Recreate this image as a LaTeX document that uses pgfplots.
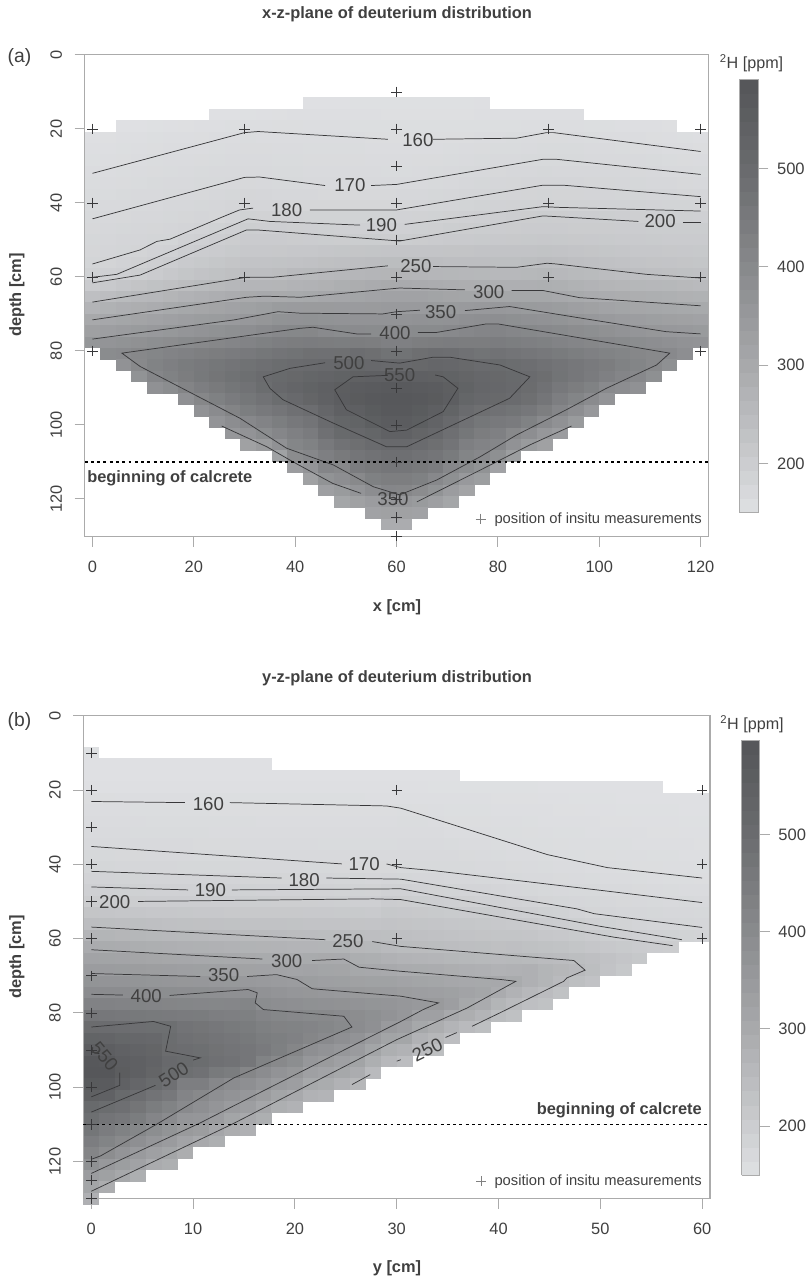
\documentclass[border=0pt]{standalone}
\usepackage{fontspec}
\setmainfont{Liberation Sans}
\usepackage{pgfplots}
\usepackage{pgfplotstable}
\pgfplotsset{compat=1.18}
\definecolor{axgray}{HTML}{ABABAB}
\definecolor{txt}{HTML}{404040}
\definecolor{cline}{HTML}{38383A}
\pgfdeclareplotmark{cellA}{\pgfpathrectangle{\pgfpoint{-5.95pt}{-4.37pt}}{\pgfpoint{11.9pt}{8.74pt}}\pgfusepathqfill}
\pgfdeclareplotmark{cellB}{\pgfpathrectangle{\pgfpoint{-5.97pt}{-4.4pt}}{\pgfpoint{11.94pt}{8.8pt}}\pgfusepathqfill}
% each line is one vertical column of the picture (x index), each entry one depth row
\pgfplotstableread[header=false]{
nan nan nan nan 153 155 157 160 162 165 167 170 172 175 177 180 188 205 237 268 299 328 358 nan nan nan nan nan nan nan nan nan nan nan nan nan nan nan nan nan
nan nan nan nan 154 156 158 161 163 165 168 171 173 176 179 182 191 210 243 275 304 334 365 393 nan nan nan nan nan nan nan nan nan nan nan nan nan nan nan nan
nan nan nan 150 155 157 159 162 164 167 169 172 175 178 180 186 194 218 250 281 310 339 370 398 372 nan nan nan nan nan nan nan nan nan nan nan nan nan nan nan
nan nan nan 151 156 158 160 163 165 168 170 173 176 179 182 190 198 225 256 285 315 345 376 405 402 370 nan nan nan nan nan nan nan nan nan nan nan nan nan nan
nan nan nan 152 157 159 162 164 167 169 171 174 177 180 186 194 205 231 260 290 320 349 383 412 422 410 375 nan nan nan nan nan nan nan nan nan nan nan nan nan
nan nan nan 153 158 160 163 165 168 170 173 175 178 180 189 199 213 236 266 297 327 354 389 420 433 425 390 nan nan nan nan nan nan nan nan nan nan nan nan nan
nan nan nan 154 158 160 163 166 169 171 174 177 181 189 197 207 220 244 273 303 333 362 396 427 444 440 418 378 nan nan nan nan nan nan nan nan nan nan nan nan
nan nan nan 155 159 161 164 167 170 172 175 178 184 192 202 212 226 250 279 309 338 368 402 434 452 454 435 408 372 nan nan nan nan nan nan nan nan nan nan nan
nan nan 150 156 160 162 165 168 170 173 176 177 188 197 205 217 231 255 284 315 342 374 408 440 460 466 450 428 395 365 nan nan nan nan nan nan nan nan nan nan
nan nan 151 157 161 163 166 168 171 175 178 181 191 200 209 222 236 260 290 320 346 380 414 446 468 476 463 445 418 388 355 nan nan nan nan nan nan nan nan nan
nan nan 152 158 162 164 166 168 172 177 179 188 198 205 213 226 240 265 296 326 352 385 420 452 476 486 475 460 438 403 368 325 nan nan nan nan nan nan nan nan
nan nan 153 158 161 164 166 168 171 176 179 187 197 204 213 226 240 265 298 332 360 395 428 460 484 497 492 474 452 420 390 344 nan nan nan nan nan nan nan nan
nan nan 154 159 161 163 165 167 170 174 178 187 196 204 214 228 244 266 296 342 370 404 436 468 492 505 510 492 465 438 410 375 322 nan nan nan nan nan nan nan
nan nan 155 159 161 163 165 167 170 173 177 186 195 203 215 230 251 270 297 343 372 406 440 473 498 512 523 507 480 455 430 412 392 340 nan nan nan nan nan nan
nan 150 155 158 160 162 164 166 169 173 177 185 194 202 216 232 253 273 300 344 374 408 443 482 502 522 535 525 490 467 445 425 407 365 325 nan nan nan nan nan
nan 151 155 158 160 162 164 166 168 172 177 185 193 201 218 236 257 277 304 344 370 398 440 480 506 528 545 540 520 497 480 452 432 413 370 330 nan nan nan nan
nan 151 155 158 160 162 164 166 168 172 177 185 192 200 220 238 259 283 308 343 368 393 438 482 510 535 555 558 545 522 505 475 450 405 385 345 310 nan nan nan
nan 152 155 157 160 162 164 166 168 172 177 185 192 201 222 241 262 288 313 343 368 394 440 490 518 542 562 568 548 530 510 485 465 443 402 365 325 nan nan nan
nan 152 155 157 159 161 163 166 168 172 177 185 191 201 223 243 265 293 318 344 368 393 437 485 510 545 566 574 565 552 522 497 475 453 428 388 340 320 nan nan
nan 152 154 157 159 161 163 165 168 172 177 185 191 200 224 245 266 296 321 346 369 394 430 473 507 546 570 580 574 562 541 507 483 462 437 410 355 325 290 nan
nan 152 154 157 159 161 163 165 168 173 177 186 192 201 224 245 266 295 320 346 369 394 430 473 507 546 570 580 574 562 541 507 483 462 437 408 355 325 290 nan
nan 152 154 157 159 161 164 166 169 174 179 187 193 203 224 245 265 292 320 347 371 396 437 485 512 545 566 574 565 552 525 497 475 453 428 392 345 320 nan nan
nan 152 154 157 159 161 164 167 170 175 180 188 195 205 224 243 262 289 316 345 370 396 440 490 520 542 562 568 550 532 510 485 465 443 403 370 330 nan nan nan
nan 152 154 157 159 162 165 168 171 176 181 190 198 207 225 241 261 287 312 345 372 400 443 487 515 535 551 553 530 507 483 468 447 407 380 340 310 nan nan nan
nan 152 154 157 159 163 166 170 173 178 183 192 200 208 225 240 259 285 310 347 378 407 440 478 508 525 535 522 497 478 460 433 415 393 350 315 nan nan nan nan
nan 153 155 157 160 164 167 171 175 179 185 194 201 209 226 240 258 283 308 350 382 414 440 470 498 515 520 510 485 460 440 420 403 370 335 nan nan nan nan nan
nan nan 155 157 161 165 168 172 176 180 186 197 202 210 226 239 256 282 306 353 385 417 443 475 500 512 515 508 478 452 430 410 380 320 nan nan nan nan nan nan
nan nan 155 157 162 165 169 173 177 181 187 199 203 211 226 239 256 282 306 349 380 411 438 468 492 505 506 497 470 445 402 372 335 nan nan nan nan nan nan nan
nan nan 156 158 163 166 170 174 178 182 188 200 204 212 226 242 258 282 306 345 375 406 432 462 487 497 495 485 458 425 385 345 nan nan nan nan nan nan nan nan
nan nan 156 158 164 167 170 175 178 183 189 201 205 213 228 246 261 283 306 343 372 401 428 455 478 488 478 465 437 398 355 325 nan nan nan nan nan nan nan nan
nan nan 155 158 164 167 170 174 178 182 188 200 204 212 226 243 257 280 301 338 367 396 420 447 468 470 455 435 410 375 340 nan nan nan nan nan nan nan nan nan
nan nan 155 158 163 167 170 174 178 182 187 199 203 211 224 238 253 275 297 331 360 389 414 438 458 458 440 415 385 345 nan nan nan nan nan nan nan nan nan nan
nan nan nan 157 162 166 169 174 177 181 187 199 203 210 222 235 250 270 293 325 353 383 408 430 448 445 425 395 352 nan nan nan nan nan nan nan nan nan nan nan
nan nan nan 157 161 166 169 173 177 181 186 198 203 209 220 232 246 266 290 318 346 376 400 422 440 430 398 365 nan nan nan nan nan nan nan nan nan nan nan nan
nan nan nan 156 161 165 169 173 176 180 186 196 202 208 218 230 243 263 288 313 340 369 396 415 425 413 388 nan nan nan nan nan nan nan nan nan nan nan nan nan
nan nan nan 155 160 164 168 172 175 180 185 195 202 207 216 227 240 261 285 309 336 363 390 408 415 403 375 nan nan nan nan nan nan nan nan nan nan nan nan nan
nan nan nan 155 159 163 167 171 174 179 184 194 201 206 215 225 238 259 283 306 332 357 384 402 402 380 nan nan nan nan nan nan nan nan nan nan nan nan nan nan
nan nan nan 154 158 161 165 169 173 178 183 193 201 205 214 224 236 258 280 303 328 352 378 400 380 nan nan nan nan nan nan nan nan nan nan nan nan nan nan nan
nan nan nan nan 157 160 164 168 172 177 183 193 201 204 213 222 234 255 277 300 325 349 372 385 nan nan nan nan nan nan nan nan nan nan nan nan nan nan nan nan
nan nan nan nan 156 159 163 167 171 176 182 192 201 204 212 220 232 252 275 297 320 345 368 nan nan nan nan nan nan nan nan nan nan nan nan nan nan nan nan nan
}\tabA
\pgfplotstableread[header=false]{
152 150 151 153 159 161 163 166 169 173 178 184 192 201 223 245 270 295 320 343 370 395 427 465 500 535 560 585 590 575 552 510 490 468 443 418 380 342 315 280
nan 150 151 153 159 161 163 166 169 173 178 184 192 201 222 243 268 293 318 342 369 395 426 463 498 532 558 580 588 572 545 497 472 447 422 392 355 328 290 nan
nan 150 151 153 158 161 163 166 169 172 177 183 191 201 220 241 265 291 316 341 368 394 424 460 495 523 545 560 565 545 510 488 462 429 402 368 338 305 nan nan
nan 150 151 153 158 160 163 165 168 172 177 183 191 201 219 240 263 288 314 340 367 393 422 458 492 520 538 550 550 525 495 470 445 412 385 348 322 285 nan nan
nan 150 151 153 158 160 162 165 168 171 176 182 190 200 217 238 260 285 311 337 364 391 420 455 490 515 530 538 530 505 475 445 417 390 362 330 295 nan nan nan
nan 150 151 153 158 160 162 165 168 171 176 182 190 200 216 236 258 283 308 335 362 390 418 452 490 497 500 512 505 485 460 425 398 370 345 315 285 nan nan nan
nan 150 151 153 158 160 162 165 168 171 175 181 190 200 215 235 257 281 306 333 360 388 416 450 475 485 495 505 490 440 420 400 365 350 320 290 nan nan nan nan
nan 150 151 153 157 160 162 165 167 170 175 181 190 200 214 234 255 279 304 331 358 386 414 448 470 480 490 497 482 440 405 385 362 340 300 nan nan nan nan nan
nan 150 151 153 157 159 162 164 167 170 175 181 190 200 213 233 253 277 302 329 356 384 412 440 462 473 480 485 455 410 385 365 342 310 285 nan nan nan nan nan
nan 150 151 153 157 159 162 164 167 170 175 181 189 200 212 232 252 275 300 326 354 382 413 437 455 465 472 478 445 395 372 345 315 290 nan nan nan nan nan nan
nan 150 151 153 157 159 162 164 166 170 174 180 188 199 212 231 251 274 298 324 352 382 419 435 448 458 465 465 415 385 358 335 300 280 nan nan nan nan nan nan
nan 150 151 153 157 159 161 164 166 169 174 180 187 199 212 231 251 273 296 322 349 375 393 420 435 445 452 425 395 365 340 310 285 nan nan nan nan nan nan nan
nan nan 151 153 157 159 161 163 166 169 174 180 187 198 212 230 250 272 294 319 345 368 388 412 428 438 435 405 372 345 315 285 nan nan nan nan nan nan nan nan
nan nan 151 153 157 159 161 163 166 169 174 180 187 198 212 229 248 270 292 316 342 362 384 408 425 430 415 390 360 335 300 275 nan nan nan nan nan nan nan nan
nan nan 151 153 157 159 161 163 166 169 173 180 187 198 211 228 247 269 296 320 338 360 380 403 420 415 385 358 330 302 275 nan nan nan nan nan nan nan nan nan
nan nan 151 153 157 159 161 163 165 168 173 179 187 197 211 228 246 268 298 315 333 355 378 405 412 400 372 347 320 293 270 nan nan nan nan nan nan nan nan nan
nan nan 151 153 157 159 161 163 165 168 172 178 186 196 210 227 245 268 297 314 331 352 376 398 403 385 358 330 305 275 nan nan nan nan nan nan nan nan nan nan
nan nan 151 153 157 159 161 163 165 168 172 178 186 195 210 226 243 262 288 305 327 350 372 392 395 372 345 318 292 262 nan nan nan nan nan nan nan nan nan nan
nan nan 151 153 156 159 161 163 165 168 172 177 185 194 208 225 242 260 285 303 325 347 367 383 382 345 315 285 252 nan nan nan nan nan nan nan nan nan nan nan
nan nan 151 153 156 159 161 163 165 168 172 179 190 202 215 228 240 252 277 300 325 345 365 372 348 318 285 258 nan nan nan nan nan nan nan nan nan nan nan nan
nan nan 151 153 156 160 162 164 166 168 170 178 190 201 214 226 238 249 272 295 320 340 358 358 335 312 275 245 nan nan nan nan nan nan nan nan nan nan nan nan
nan nan 151 153 156 159 162 164 166 168 170 177 187 199 212 224 236 248 270 293 315 335 352 330 305 275 250 nan nan nan nan nan nan nan nan nan nan nan nan nan
nan nan 151 152 155 158 161 164 166 168 170 176 185 197 210 222 233 246 267 292 312 332 350 330 290 262 240 nan nan nan nan nan nan nan nan nan nan nan nan nan
nan nan 150 152 155 157 159 161 165 168 170 174 183 194 207 219 231 244 263 287 306 328 335 300 270 242 nan nan nan nan nan nan nan nan nan nan nan nan nan nan
nan nan nan 152 155 157 159 161 164 167 170 174 182 193 206 218 228 242 260 283 304 320 305 287 252 nan nan nan nan nan nan nan nan nan nan nan nan nan nan nan
nan nan nan 152 155 157 159 161 163 166 169 173 181 190 204 215 226 240 257 280 302 312 295 270 240 nan nan nan nan nan nan nan nan nan nan nan nan nan nan nan
nan nan nan 152 154 156 158 160 162 165 168 171 179 190 203 213 224 237 255 275 303 295 268 246 nan nan nan nan nan nan nan nan nan nan nan nan nan nan nan nan
nan nan nan 152 154 156 158 160 161 164 167 170 177 187 197 211 224 238 257 277 296 275 252 235 nan nan nan nan nan nan nan nan nan nan nan nan nan nan nan nan
nan nan nan 152 154 155 157 159 160 163 166 169 175 184 194 208 222 235 254 280 280 258 238 nan nan nan nan nan nan nan nan nan nan nan nan nan nan nan nan nan
nan nan nan 151 153 155 156 158 160 162 165 168 173 180 191 203 217 232 250 268 268 247 232 nan nan nan nan nan nan nan nan nan nan nan nan nan nan nan nan nan
nan nan nan 151 153 154 156 157 159 161 164 167 171 178 188 200 214 229 247 262 252 232 nan nan nan nan nan nan nan nan nan nan nan nan nan nan nan nan nan nan
nan nan nan 151 152 154 155 157 158 160 163 166 170 176 184 196 210 224 243 255 240 nan nan nan nan nan nan nan nan nan nan nan nan nan nan nan nan nan nan nan
nan nan nan 151 152 153 155 156 158 159 161 165 170 175 180 192 205 220 238 243 230 nan nan nan nan nan nan nan nan nan nan nan nan nan nan nan nan nan nan nan
nan nan nan 151 152 153 154 156 157 159 161 164 169 174 179 188 199 214 230 228 nan nan nan nan nan nan nan nan nan nan nan nan nan nan nan nan nan nan nan nan
nan nan nan 151 151 152 154 155 157 158 160 163 168 172 177 185 195 210 222 215 nan nan nan nan nan nan nan nan nan nan nan nan nan nan nan nan nan nan nan nan
nan nan nan 151 151 152 153 155 156 158 159 162 167 171 176 182 192 206 215 nan nan nan nan nan nan nan nan nan nan nan nan nan nan nan nan nan nan nan nan nan
nan nan nan 150 151 152 153 154 156 157 159 161 166 170 175 179 190 203 nan nan nan nan nan nan nan nan nan nan nan nan nan nan nan nan nan nan nan nan nan nan
nan nan nan nan 151 152 153 154 155 157 158 160 165 169 174 179 188 201 nan nan nan nan nan nan nan nan nan nan nan nan nan nan nan nan nan nan nan nan nan nan
nan nan nan nan 151 151 152 153 155 156 158 160 164 170 174 178 186 nan nan nan nan nan nan nan nan nan nan nan nan nan nan nan nan nan nan nan nan nan nan nan
nan nan nan nan 150 151 152 153 154 156 157 159 163 169 173 177 184 nan nan nan nan nan nan nan nan nan nan nan nan nan nan nan nan nan nan nan nan nan nan nan
}\tabB
\pgfplotsset{
  deut/.style={
    colormap={deutmap}{rgb(150pt)=(.875,.88,.89); rgb(200pt)=(.80,.805,.815); rgb(300pt)=(.66,.665,.675); rgb(400pt)=(.54,.545,.555); rgb(500pt)=(.42,.425,.435); rgb(600pt)=(.33,.335,.345)},
    point meta min=150},
  rbase/.style={
    scale only axis, y dir=reverse, clip=false, clip marker paths=true, axis on top,
    unbounded coords=discard, filter discard warning=false,
    axis line style={axgray,line width=.8pt},
    tick style={axgray,line width=.7pt},
    tick align=outside, major tick length=7.5pt,
    xtick pos=lower, xticklabel pos=lower, ytick pos=left, yticklabel pos=left,
    ytick={0,20,...,120},
    /pgf/number format/assume math mode=true,
    /pgf/number format/1000 sep={},
    tick label style={font=\fontsize{12.3}{13}\selectfont,text=txt},
    yticklabel style={rotate=90,anchor=south},
    xticklabel shift=7.5pt, yticklabel shift=6pt,
    colorbar sampled,
  },
  cbar/.style={
    at={(parent axis.south east)}, anchor=south west,
    samples=32,
    ytick={200,300,400,500},
    ytick pos=right, yticklabel pos=right,
    axis line style={axgray,line width=.5pt},
    tick style={axgray,line width=.7pt},
    tick align=outside, major tick length=7.5pt,
    /pgf/number format/assume math mode=true,
    tick label style={font=\fontsize{12.4}{13}\selectfont,text=txt},
    yticklabel shift=3pt,
  },
  cnt/.style={no marks,color=cline,line width=.55pt,forget plot},
  over/.style={scale only axis, y dir=reverse, clip=false, hide axis, anchor=south west},
  plus/.style={only marks,mark=+,mark size=3.9pt,mark options={line width=.45pt},color=cline,forget plot},
  dots/.style={no marks,black,line width=.9pt,dash pattern=on 2.2pt off 2.5pt,forget plot},
}
\tikzset{clab/.style={font=\fontsize{14}{14}\selectfont,text=txt,inner sep=0pt}}
\begin{document}
\begin{tikzpicture}
\begin{axis}[rbase,deut,
  at={(63.5pt,559pt)},anchor=south west,width=467.85pt,height=361.3pt,
  xmin=-1.54,xmax=121.54,ymin=0,ymax=130.2,xtick={0,20,...,120},
  point meta max=591,
  colorbar style={cbar,xshift=14.9pt,yshift=18pt,width=14pt,height=325.3pt}]
\pgfplotsinvokeforeach{0,...,39}{
  \addplot[scatter,only marks,mark=cellA,scatter src=explicit,forget plot]
    table[x expr=\coordindex*3.0769,y expr={\thisrowno{#1}*0+10+3.0769*#1},meta index=#1]{\tabA};
}
\addplot[cnt] coordinates {(0,32)(30,21)(32.7,20.7)(58.3,22.8)};
\addplot[cnt] coordinates {(67.2,22.8)(83.7,22.5)(89.6,21)(91,21)(120,26.1)};
\addplot[cnt] coordinates {(0,44.3)(30,33.1)(33,33)(45.9,35.3)};
\addplot[cnt] coordinates {(55,35.3)(60,35)(88.9,28.2)(91.5,28.2)(120,32.3)};
\addplot[cnt] coordinates {(0,56.5)(9.4,52.7)(12.7,50.4)(15.3,49.8)(25.1,44.1)(29,41.9)(31.7,41.4)};
\addplot[cnt] coordinates {(42.9,41.9)(60,41.9)(88.9,35.2)(92.8,35.2)(120,38.3)};
\addplot[cnt] coordinates {(0,60.1)(4.8,59.3)(30.7,44.3)(35,45)(52.8,46)};
\addplot[cnt] coordinates {(61.6,45.8)(88.9,41)(92,41.2)(120,42.2)};
\addplot[cnt] coordinates {(0,61.6)(9.4,59.5)(30.4,47.3)(32.5,47.3)(60.6,50.3)(88.9,43.5)(91.5,43.7)(107.7,45)};
\addplot[cnt] coordinates {(116.5,45.3)(120,45.3)};
\addplot[cnt] coordinates {(0,66.8)(30.4,60.1)(35.5,60.1)(58.3,57)};
\addplot[cnt] coordinates {(67.2,57.2)(83.7,57.4)(89.7,56.3)(91.5,56.5)(109.3,59.3)(120,60.3)};
\addplot[cnt] coordinates {(0,71.6)(30.4,65.5)(34,65.2)(41,65.5)(60.6,63)(73.5,63.5)};
\addplot[cnt] coordinates {(82.7,63.7)(89,63.7)(96.1,65.6)(120,67.8)};
\addplot[cnt] coordinates {(0,76.8)(28,71.6)(36.6,69.4)(41,69.8)(57.3,70)(60,69.4)(64.6,69)};
\addplot[cnt] coordinates {(73.5,69.1)(82.3,68)(97.6,71.4)(113.2,74.8)(120,75.4)};
\addplot[cnt] coordinates {(55,75.4)(52.1,75.4)(43.5,73.6)(40.9,73.9)(5.8,80.6)(9.4,84.2)(29.1,98.2)(38.3,106.3)(47.5,110.8)(55.4,116.7)(60.6,118.9)(67.9,114.9)(76.5,108.6)(83.7,102.7)(93.5,95.9)(101.4,90.1)(111.3,83.8)(113.9,80.6)(80,72.7)(77.7,72.7)(67.9,75)(64.2,75)};
\addplot[cnt] coordinates {(25.5,100.3)(34.4,105.9)(39.6,110)(47.4,115.8)(53,118.5)};
\addplot[cnt] coordinates {(64,120.8)(79.7,110)(86.3,105.4)(94.5,100.3)};
\addplot[cnt] coordinates {(45.9,83.2)(39,84.7)(33.7,87)(35,90.1)(37.6,93.2)(47.5,99.5)(58,105.9)(62,105.9)(82.3,92.8)(86.3,87)(80.4,83.8)(70.5,81.7)(67.2,81.7)(60.6,83.3)(55,82.6)};
\addplot[cnt] coordinates {(58.3,86.6)(51.4,87)(47.8,90.5)(50.1,95.9)(58.7,101.8)(62,101.4)(69.2,96.4)(72.1,90.1)(69.2,87)(67.6,86.5)};
\node[clab] at (axis cs:64.2,23) {160};
\node[clab] at (axis cs:50.8,35.3) {170};
\node[clab] at (axis cs:38.3,42) {180};
\node[clab] at (axis cs:57,46) {190};
\node[clab] at (axis cs:112,45) {200};
\node[clab] at (axis cs:63.8,57) {250};
\node[clab] at (axis cs:78.2,64) {300};
\node[clab] at (axis cs:68.7,69.5) {350};
\node[clab] at (axis cs:59.7,75.2) {400};
\node[clab] at (axis cs:50.6,83.3) {500};
\node[clab] at (axis cs:60.6,86.5) {550};
\node[clab] at (axis cs:59.3,120) {350};
\end{axis}
\begin{axis}[over,at={(63.5pt,559pt)},width=467.85pt,height=361.3pt,
  xmin=-1.54,xmax=121.54,ymin=0,ymax=130.2]
\addplot[plus] coordinates {
 (0,20)(0,40)(0,60)(0,80)(30,20)(30,40)(30,60)(60,10)(60,20)(60,30)(60,40)(60,50)(60,60)(60,70)(60,80)(60,90)(60,100)(60,110)(60,120)(60,125)(60,130)(90,20)(90,40)(90,60)(120,20)(120,40)(120,60)(120,80)};
\addplot[plus,color=gray] coordinates {(76.6,125.4)};
\addplot[dots] coordinates {(-1.54,110)(121.54,110)};
\end{axis}
\begin{axis}[rbase,deut,
  at={(62.6pt,62.5pt)},anchor=south west,width=469.9pt,height=362.25pt,
  xmin=-0.77,xmax=60.77,ymin=0,ymax=130,xtick={0,10,...,60},
  point meta max=597,
  colorbar style={cbar,xshift=15.1pt,yshift=17.8pt,width=13.7pt,height=326.25pt}]
\pgfplotsinvokeforeach{0,...,39}{
  \addplot[scatter,only marks,mark=cellB,scatter src=explicit,forget plot]
    table[x expr=\coordindex*1.53846,y expr={\thisrowno{#1}*0+10+3.0769*#1},meta index=#1]{\tabB};
}
\addplot[cnt] coordinates {(0,23.1)(9.2,23.4)};
\addplot[cnt] coordinates {(13.6,23.4)(29,24.3)(30.4,24.9)(44.8,37.4)(50.7,40.9)(60,43.7)};
\addplot[cnt] coordinates {(0,35.2)(24.6,39.9)};
\addplot[cnt] coordinates {(29,39.9)(30.4,40.9)(33.6,41.7)(50,47)(60,50.3)};
\addplot[cnt] coordinates {(0,41.9)(18.7,43.7)};
\addplot[cnt] coordinates {(23.1,43.7)(30.4,44)(47.7,52)(49.4,53.3)(60,57)};
\addplot[cnt] coordinates {(0,46.1)(9.5,46.9)};
\addplot[cnt] coordinates {(13.8,46.9)(30.4,46.6)(50,56.7)(58,60.3)};
\addplot[cnt] coordinates {(4.6,50)(27.7,49.3)(30.4,49.5)(51.3,59.6)(57.1,61.9)};
\addplot[cnt] coordinates {(0,56.9)(23,60.3)};
\addplot[cnt] coordinates {(27.6,60.8)(30.4,62.1)(47.4,65.9)(48.5,68.5)(46.7,70.6)(46.4,71.5)(40.2,79.9)(37.4,83.6)};
\addplot[cnt] coordinates {(35.9,85.3)(34.8,86.6)};
\addplot[cnt] coordinates {(30.4,92.6)(30,93)};
\addplot[cnt] coordinates {(27.4,96.6)(25.6,99.3)};
\addplot[cnt] coordinates {(0,63)(16.8,65.5)};
\addplot[cnt] coordinates {(21.7,65.9)(24.8,65.5)(26.3,67.7)(30.4,68.8)(40.2,71)(41.7,71.5)(36.9,78.7)(30,87.2)(13.8,110)(0,128)};
\addplot[cnt] coordinates {(0,69.4)(10.7,70.2)};
\addplot[cnt] coordinates {(15.3,70.2)(18.2,69.7)(20.2,71)(21.7,73.5)(30.4,75.5)(34.1,77.3)(32.6,79.1)(30.4,82.3)(23.8,91.4)(14,105)(10.7,109.6)(0,123.2)};
\addplot[cnt] coordinates {(0,75)(3.1,75.2)};
\addplot[cnt] coordinates {(7.7,75.3)(15.4,73.7)(16.3,74.6)(16.1,77.3)(16.9,79.1)(24.8,80.9)(25.6,83.8)(14,97.5)(6.4,110)(0.9,118.5)(0,119.4)};
\addplot[cnt] coordinates {(0,83.8)(6.1,82.3)(7.8,83.6)(7.3,90.3)(10.7,92.1)(10,92.7)};
\addplot[cnt] coordinates {(6.3,99.5)(0,106.7)};
\addplot[cnt] coordinates {(2.8,96.1)(2.8,99.5)(0,102.6)};
\addplot[cnt] coordinates {(0,90.5)(0.8,91)};
\node[clab] at (axis cs:11.5,23.7) {160};
\node[clab] at (axis cs:26.8,40) {170};
\node[clab] at (axis cs:20.9,44.2) {180};
\node[clab] at (axis cs:11.7,46.9) {190};
\node[clab] at (axis cs:2.3,50.3) {200};
\node[clab] at (axis cs:25.2,60.8) {250};
\node[clab] at (axis cs:19.2,66.1) {300};
\node[clab] at (axis cs:13,69.7) {350};
\node[clab] at (axis cs:5.4,75.5) {400};
\node[clab,rotate=33] at (axis cs:8.1,96.6) {500};
\node[clab,rotate=-50] at (axis cs:1.3,91.8) {550};
\node[clab,rotate=26] at (axis cs:33,89.9) {250};
\end{axis}
\begin{axis}[over,at={(62.6pt,62.5pt)},width=469.9pt,height=362.25pt,
  xmin=-0.77,xmax=60.77,ymin=0,ymax=130]
\addplot[plus] coordinates {
 (0,10)(0,20)(0,30)(0,40)(0,50)(0,60)(0,70)(0,80)(0,90)(0,100)(0,110)(0,120)(0,125)(0,130)(30,20)(30,40)(30,60)(60,20)(60,40)(60,60)};
\addplot[plus,color=gray] coordinates {(38.3,125.3)};
\addplot[dots] coordinates {(-0.77,110)(60.77,110)};
\end{axis}
\begin{scope}[x=.75pt,y=-.75pt,yshift=961.5pt]
\path[use as bounding box] (0,0) rectangle (807,1282);
\tikzset{tt/.style={font=\bfseries\fontsize{12.3}{13}\selectfont,text=txt,inner sep=0pt}}
\node[tt] at (397,14) {x-z-plane of deuterium distribution};
\node[tt] at (397,678) {y-z-plane of deuterium distribution};
\node[tt] at (397,607) {x [cm]};
\node[tt] at (397,1268) {y [cm]};
\node[tt,rotate=90] at (17,295) {depth [cm]};
\node[tt,rotate=90] at (17,957) {depth [cm]};
\node[font=\fontsize{14.5}{15}\selectfont,text=txt,inner sep=0pt] at (19.5,58) {(a)};
\node[font=\fontsize{14.5}{15}\selectfont,text=txt,inner sep=0pt] at (19.5,722) {(b)};
\node[font=\fontsize{12.1}{13}\selectfont,text=txt,inner sep=0pt] at (751.5,63) {\textsuperscript{2}H [ppm]};
\node[font=\fontsize{12.1}{13}\selectfont,text=txt,inner sep=0pt] at (752,724) {\textsuperscript{2}H [ppm]};
\node[tt,anchor=west] at (87,478) {beginning of calcrete};
\node[tt,anchor=east] at (702,1110) {beginning of calcrete};
\node[font=\fontsize{11.05}{12}\selectfont,text=txt,inner sep=0pt,anchor=east] at (702,520) {position of insitu measurements};
\node[font=\fontsize{11.05}{12}\selectfont,text=txt,inner sep=0pt,anchor=east] at (702,1182) {position of insitu measurements};
\end{scope}
\end{tikzpicture}
\end{document}
